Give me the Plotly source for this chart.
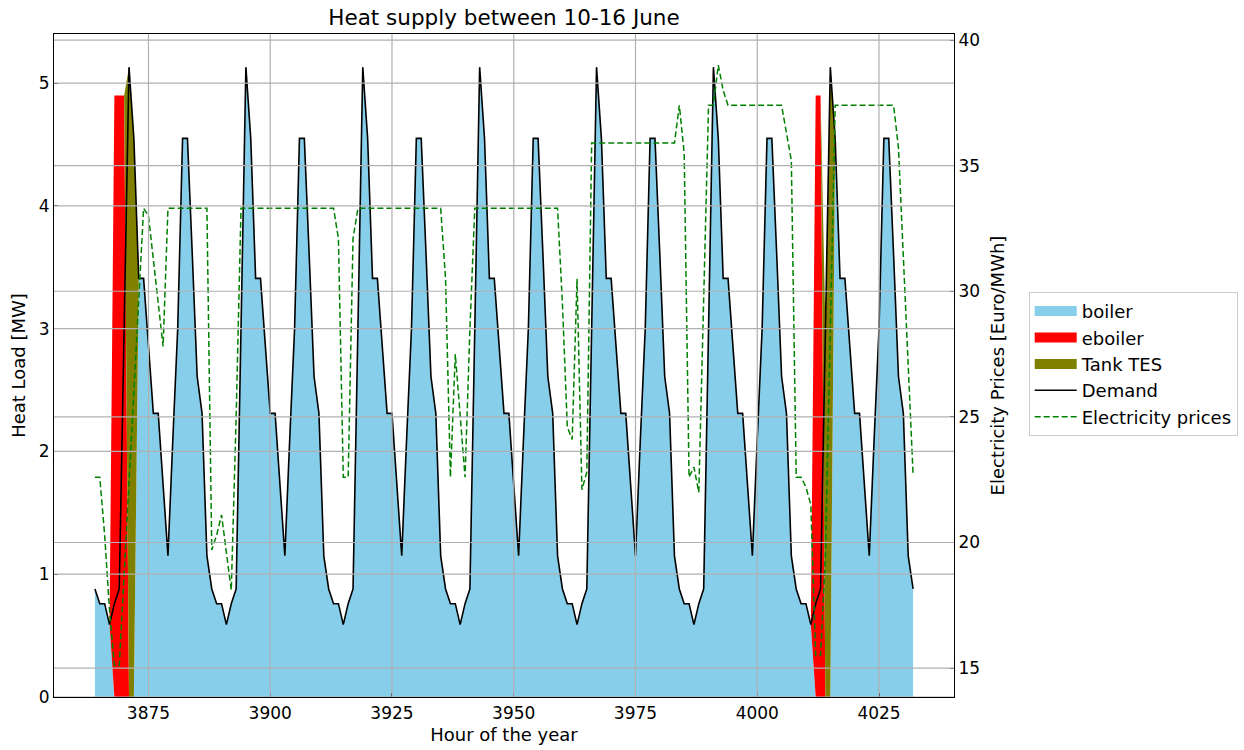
import plotly.graph_objects as go

# ---------------- data ----------------
start_hour = 3864
hours = list(range(start_hour, 4033))

demand = [
    0.88, 0.76, 0.76, 0.59, 0.76, 0.88, 3.00, 5.13, 4.55, 3.41, 3.41, 2.86, 2.31, 2.31, 1.73, 1.15, 2.10, 3.00, 4.55, 4.55, 3.60, 2.61, 2.31, 1.15,
    0.88, 0.76, 0.76, 0.59, 0.76, 0.88, 3.00, 5.13, 4.55, 3.41, 3.41, 2.86, 2.31, 2.31, 1.73, 1.15, 2.10, 3.00, 4.55, 4.55, 3.60, 2.61, 2.31, 1.15,
    0.88, 0.76, 0.76, 0.59, 0.76, 0.88, 3.00, 5.13, 4.55, 3.41, 3.41, 2.86, 2.31, 2.31, 1.73, 1.15, 2.10, 3.00, 4.55, 4.55, 3.60, 2.61, 2.31, 1.15,
    0.88, 0.76, 0.76, 0.59, 0.76, 0.88, 3.00, 5.13, 4.55, 3.41, 3.41, 2.86, 2.31, 2.31, 1.73, 1.15, 2.10, 3.00, 4.55, 4.55, 3.60, 2.61, 2.31, 1.15,
    0.88, 0.76, 0.76, 0.59, 0.76, 0.88, 3.00, 5.13, 4.55, 3.41, 3.41, 2.86, 2.31, 2.31, 1.73, 1.15, 2.10, 3.00, 4.55, 4.55, 3.60, 2.61, 2.31, 1.15,
    0.88, 0.76, 0.76, 0.59, 0.76, 0.88, 3.00, 5.13, 4.55, 3.41, 3.41, 2.86, 2.31, 2.31, 1.73, 1.15, 2.10, 3.00, 4.55, 4.55, 3.60, 2.61, 2.31, 1.15,
    0.88, 0.76, 0.76, 0.59, 0.76, 0.88, 3.00, 5.13, 4.55, 3.41, 3.41, 2.86, 2.31, 2.31, 1.73, 1.15, 2.10, 3.00, 4.55, 4.55, 3.60, 2.61, 2.31, 1.15,
    0.88,
]

boiler = [
    0.88, 0.76, 0.76, 0.59, 0.00, 0.00, 0.00, 0.00, 0.00, 3.41, 3.41, 2.86, 2.31, 2.31, 1.73, 1.15, 2.10, 3.00, 4.55, 4.55, 3.60, 2.61, 2.31, 1.15,
    0.88, 0.76, 0.76, 0.59, 0.76, 0.88, 3.00, 5.13, 4.55, 3.41, 3.41, 2.86, 2.31, 2.31, 1.73, 1.15, 2.10, 3.00, 4.55, 4.55, 3.60, 2.61, 2.31, 1.15,
    0.88, 0.76, 0.76, 0.59, 0.76, 0.88, 3.00, 5.13, 4.55, 3.41, 3.41, 2.86, 2.31, 2.31, 1.73, 1.15, 2.10, 3.00, 4.55, 4.55, 3.60, 2.61, 2.31, 1.15,
    0.88, 0.76, 0.76, 0.59, 0.76, 0.88, 3.00, 5.13, 4.55, 3.41, 3.41, 2.86, 2.31, 2.31, 1.73, 1.15, 2.10, 3.00, 4.55, 4.55, 3.60, 2.61, 2.31, 1.15,
    0.88, 0.76, 0.76, 0.59, 0.76, 0.88, 3.00, 5.13, 4.55, 3.41, 3.41, 2.86, 2.31, 2.31, 1.73, 1.15, 2.10, 3.00, 4.55, 4.55, 3.60, 2.61, 2.31, 1.15,
    0.88, 0.76, 0.76, 0.59, 0.76, 0.88, 3.00, 5.13, 4.55, 3.41, 3.41, 2.86, 2.31, 2.31, 1.73, 1.15, 2.10, 3.00, 4.55, 4.55, 3.60, 2.61, 2.31, 1.15,
    0.88, 0.76, 0.76, 0.59, 0.00, 0.00, 0.00, 0.00, 4.55, 3.41, 3.41, 2.86, 2.31, 2.31, 1.73, 1.15, 2.10, 3.00, 4.55, 4.55, 3.60, 2.61, 2.31, 1.15,
    0.88,
]

eboiler_hours = [3868, 3869, 3870, 4012, 4013]
eboiler_values = [4.90, 4.90, 4.90, 4.90, 4.90]

tes_hours = [3871, 3872, 4014, 4015]
tes_values = [5.13, 4.55, 3.00, 5.13]

prices = [
    22.6, 22.6, 20.3, 17.3, 15.1, 15.1, 18.7, 22.3, 25.9, 29.6, 33.3, 33.0, 31.3, 29.5, 27.8, 33.3,
    33.3, 33.3, 33.3, 33.3, 33.3, 33.3, 33.3, 33.3,
    19.7, 20.3, 21.1, 19.5, 18.1, 25.0, 33.3,
    33.3, 33.3, 33.3, 33.3, 33.3, 33.3, 33.3, 33.3, 33.3, 33.3, 33.3, 33.3, 33.3, 33.3, 33.3, 33.3, 33.3, 33.3,
    33.3, 32.1, 22.6, 22.6, 32.1, 33.3,
    33.3, 33.3, 33.3, 33.3, 33.3, 33.3, 33.3, 33.3, 33.3, 33.3, 33.3, 33.3, 33.3, 33.3, 33.3, 33.3,
    33.3, 30.5, 22.6, 27.5, 25.0, 22.6, 28.5, 33.3,
    33.3, 33.3, 33.3, 33.3, 33.3, 33.3, 33.3, 33.3, 33.3, 33.3, 33.3, 33.3, 33.3, 33.3, 33.3, 33.3,
    33.3, 29.5, 24.6, 24.1, 30.5, 22.1, 22.8, 35.9,
    35.9, 35.9, 35.9, 35.9, 35.9, 35.9, 35.9, 35.9, 35.9, 35.9, 35.9, 35.9, 35.9, 35.9, 35.9, 35.9,
    35.9, 37.4, 35.5, 22.6, 23.0, 22.0, 29.7, 37.4, 37.4, 39.0, 38.0, 37.4,
    37.4, 37.4, 37.4, 37.4, 37.4, 37.4, 37.4, 37.4, 37.4, 37.4, 37.4,
    36.3, 35.2, 22.6, 22.6, 22.2, 21.5, 15.5, 15.5, 19.5, 28.0, 37.4,
    37.4, 37.4, 37.4, 37.4, 37.4, 37.4, 37.4, 37.4, 37.4, 37.4, 37.4,
    37.4, 35.7, 31.5, 27.2, 22.7,
]

x_ticks = [3875, 3900, 3925, 3950, 3975, 4000, 4025]
y_ticks = [0, 1, 2, 3, 4, 5]
y2_ticks = [15, 20, 25, 30, 35, 40]

# build full series for the sparse ones
e_map = dict(zip(eboiler_hours, eboiler_values))
t_map = dict(zip(tes_hours, tes_values))
eboiler = [e_map.get(h, 0.0) for h in hours]
tes = [t_map.get(h, 0.0) for h in hours]

FONT = "DejaVu Sans"
GRID = "#b0b0b0"
C_BOILER, C_EBOILER, C_TES = "#87CEEB", "#FF0000", "#808000"

fig = go.Figure()

# stacked areas (legend entries drawn by patch-like proxies below)
for name, vals, col in [("boiler", boiler, C_BOILER), ("eboiler", eboiler, C_EBOILER),
                        ("Tank TES", tes, C_TES)]:
    fig.add_trace(go.Scatter(x=hours, y=vals, name=name, stackgroup="heat",
                             mode="lines", line=dict(width=0, color=col),
                             fillcolor=col, showlegend=False, hoverinfo="skip"))

# legend proxies (patches)
for i, (name, col) in enumerate([("boiler", C_BOILER), ("eboiler", C_EBOILER),
                                 ("Tank TES", C_TES)]):
    fig.add_trace(go.Scatter(x=[None], y=[None], name=name, mode="lines",
                             line=dict(width=12, color=col), legendgroup=f"g{i}",
                             showlegend=True))

fig.add_trace(go.Scatter(x=hours, y=demand, name="Demand", mode="lines",
                         line=dict(color="black", width=1.6), legendgroup="g3"))
fig.add_trace(go.Scatter(x=hours, y=prices, name="Electricity prices", mode="lines",
                         line=dict(color="#008000", width=1.5, dash="6px,3px"),
                         yaxis="y2", legendgroup="g4"))

shapes = []
for v in x_ticks:
    shapes.append(dict(type="line", xref="x", yref="paper", x0=v, x1=v, y0=0, y1=1,
                       line=dict(color=GRID, width=1.2), layer="above"))
for v in y_ticks:
    shapes.append(dict(type="line", xref="paper", yref="y", x0=0, x1=1, y0=v, y1=v,
                       line=dict(color=GRID, width=1.2), layer="above"))
for v in y2_ticks:
    shapes.append(dict(type="line", xref="paper", yref="y2", x0=0, x1=1, y0=v, y1=v,
                       line=dict(color=GRID, width=1.2), layer="above"))

fig.update_layout(
    width=1244, height=750,
    margin=dict(l=54, r=290, t=34, b=53, autoexpand=False),
    paper_bgcolor="white", plot_bgcolor="white",
    font=dict(family=FONT, size=17, color="black"),
    title=dict(text="Heat supply between 10-16 June", x=0.5, xref="paper",
               y=1 - 17 / 750, yref="container", yanchor="middle", xanchor="center",
               font=dict(size=21.5, family=FONT, color="black")),
    xaxis=dict(range=[3855.6, 4040.4], tickvals=x_ticks, showgrid=False, zeroline=False,
               showline=True, mirror=True, linecolor="black", linewidth=1.2,
               ticks="inside", ticklen=4, tickcolor="black",
               title=dict(text="Hour of the year", standoff=6, font=dict(size=18)),
               tickfont=dict(size=17), automargin=False),
    yaxis=dict(range=[0, 5.4], tickvals=y_ticks, showgrid=False, zeroline=False,
               showline=True, mirror=True, linecolor="black", linewidth=1.2,
               ticks="inside", ticklen=4, tickcolor="black",
               title=dict(text="Heat Load [MW]", standoff=8, font=dict(size=18)),
               tickfont=dict(size=17), automargin=False),
    yaxis2=dict(range=[13.85, 40.24], tickvals=y2_ticks, overlaying="y", side="right",
                showgrid=False, zeroline=False, showline=True, linecolor="black", linewidth=1.2,
                ticks="inside", ticklen=4, tickcolor="black",
                title=dict(text="Electricity Prices [Euro/MWh]", standoff=12, font=dict(size=18)),
                tickfont=dict(size=17), automargin=False),
    legend=dict(x=1.083, xanchor="left", y=0.611, yanchor="top",
                bordercolor="#cccccc", borderwidth=1, bgcolor="white",
                font=dict(size=18, family=FONT), tracegroupgap=8, itemwidth=42,
                traceorder="normal"),
    shapes=shapes,
    showlegend=True,
)

fig.write_html("out.html")
